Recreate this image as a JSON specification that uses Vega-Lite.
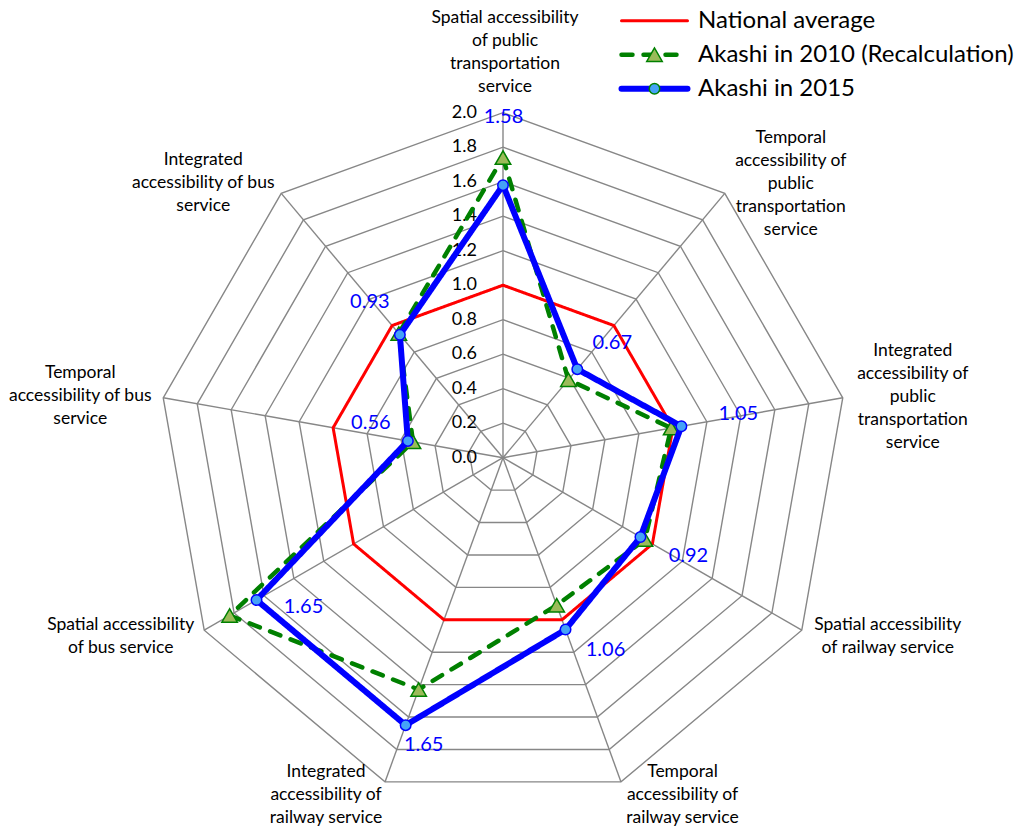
{
  "$schema": "https://vega.github.io/schema/vega-lite/v6.json",
  "width": 1027,
  "height": 827,
  "padding": 0,
  "autosize": {"type": "none"},
  "background": "white",
  "config": {"view": {"stroke": null}, "font": "Lato"},
  "datasets": {
    "series": [
      {"series": "National average", "idx": 0, "value": 1.0},
      {"series": "National average", "idx": 1, "value": 1.0},
      {"series": "National average", "idx": 2, "value": 1.0},
      {"series": "National average", "idx": 3, "value": 1.0},
      {"series": "National average", "idx": 4, "value": 1.0},
      {"series": "National average", "idx": 5, "value": 1.0},
      {"series": "National average", "idx": 6, "value": 1.0},
      {"series": "National average", "idx": 7, "value": 1.0},
      {"series": "National average", "idx": 8, "value": 1.0},
      {"series": "Akashi in 2010 (Recalculation)", "idx": 0, "value": 1.74},
      {"series": "Akashi in 2010 (Recalculation)", "idx": 1, "value": 0.59},
      {"series": "Akashi in 2010 (Recalculation)", "idx": 2, "value": 0.99},
      {"series": "Akashi in 2010 (Recalculation)", "idx": 3, "value": 0.95},
      {"series": "Akashi in 2010 (Recalculation)", "idx": 4, "value": 0.91},
      {"series": "Akashi in 2010 (Recalculation)", "idx": 5, "value": 1.43},
      {"series": "Akashi in 2010 (Recalculation)", "idx": 6, "value": 1.83},
      {"series": "Akashi in 2010 (Recalculation)", "idx": 7, "value": 0.53},
      {"series": "Akashi in 2010 (Recalculation)", "idx": 8, "value": 0.94},
      {"series": "Akashi in 2015", "idx": 0, "value": 1.58},
      {"series": "Akashi in 2015", "idx": 1, "value": 0.67},
      {"series": "Akashi in 2015", "idx": 2, "value": 1.05},
      {"series": "Akashi in 2015", "idx": 3, "value": 0.92},
      {"series": "Akashi in 2015", "idx": 4, "value": 1.06},
      {"series": "Akashi in 2015", "idx": 5, "value": 1.65},
      {"series": "Akashi in 2015", "idx": 6, "value": 1.65},
      {"series": "Akashi in 2015", "idx": 7, "value": 0.56},
      {"series": "Akashi in 2015", "idx": 8, "value": 0.93}
    ],
    "axes": [
      {"idx": 0, "label": "Spatial accessibility\nof public\ntransportation\nservice"},
      {"idx": 1, "label": "Temporal\naccessibility of\npublic\ntransportation\nservice"},
      {"idx": 2, "label": "Integrated\naccessibility of\npublic\ntransportation\nservice"},
      {"idx": 3, "label": "Spatial accessibility\nof railway service"},
      {"idx": 4, "label": "Temporal\naccessibility of\nrailway service"},
      {"idx": 5, "label": "Integrated\naccessibility of\nrailway service"},
      {"idx": 6, "label": "Spatial accessibility\nof bus service"},
      {"idx": 7, "label": "Temporal\naccessibility of bus\nservice"},
      {"idx": 8, "label": "Integrated\naccessibility of bus\nservice"}
    ],
    "grid": [
      {"ring": 0.2, "idx": [0, 1, 2, 3, 4, 5, 6, 7, 8]},
      {"ring": 0.4, "idx": [0, 1, 2, 3, 4, 5, 6, 7, 8]},
      {"ring": 0.6, "idx": [0, 1, 2, 3, 4, 5, 6, 7, 8]},
      {"ring": 0.8, "idx": [0, 1, 2, 3, 4, 5, 6, 7, 8]},
      {"ring": 1.0, "idx": [0, 1, 2, 3, 4, 5, 6, 7, 8]},
      {"ring": 1.2, "idx": [0, 1, 2, 3, 4, 5, 6, 7, 8]},
      {"ring": 1.4, "idx": [0, 1, 2, 3, 4, 5, 6, 7, 8]},
      {"ring": 1.6, "idx": [0, 1, 2, 3, 4, 5, 6, 7, 8]},
      {"ring": 1.8, "idx": [0, 1, 2, 3, 4, 5, 6, 7, 8]},
      {"ring": 2.0, "idx": [0, 1, 2, 3, 4, 5, 6, 7, 8]}
    ],
    "tickvals": [
      {"v": 0.0}, {"v": 0.2}, {"v": 0.4}, {"v": 0.6}, {"v": 0.8}, {"v": 1.0},
      {"v": 1.2}, {"v": 1.4}, {"v": 1.6}, {"v": 1.8}, {"v": 2.0}
    ]
  },
  "encoding": {
    "x": {"field": "x", "type": "quantitative", "scale": {"domain": [-2.91594, 3.03768], "nice": false, "zero": false}, "axis": null},
    "y": {"field": "y", "type": "quantitative", "scale": {"domain": [-2.14087, 2.65333], "nice": false, "zero": false}, "axis": null}
  },
  "layer": [
    {
      "data": {"name": "grid"},
      "transform": [
        {"flatten": ["idx"]},
        {"calculate": "datum.idx*2*PI/9", "as": "a"},
        {"calculate": "datum.ring*sin(datum.a)", "as": "x"},
        {"calculate": "datum.ring*cos(datum.a)", "as": "y"}
      ],
      "mark": {"type": "line", "interpolate": "linear-closed", "stroke": "#878787", "strokeWidth": 1.4},
      "encoding": {
        "detail": {"field": "ring", "type": "nominal"},
        "order": {"field": "idx", "type": "quantitative"}
      }
    },
    {
      "data": {"name": "axes"},
      "transform": [
        {"calculate": "datum.idx*2*PI/9", "as": "a"},
        {"calculate": "2*sin(datum.a)", "as": "x"},
        {"calculate": "2*cos(datum.a)", "as": "y"}
      ],
      "mark": {"type": "rule", "stroke": "#878787", "strokeWidth": 1.4},
      "encoding": {
        "x2": {"datum": 0},
        "y2": {"datum": 0}
      }
    },
    {
      "data": {"name": "tickvals"},
      "transform": [
        {"calculate": "0", "as": "x"},
        {"calculate": "datum.v", "as": "y"},
        {"calculate": "format(datum.v, '.1f')", "as": "lab"}
      ],
      "mark": {"type": "text", "align": "right", "baseline": "middle", "dx": -26, "fontSize": 18, "color": "black"},
      "encoding": {
        "text": {"field": "lab", "type": "nominal"}
      }
    },
    {
      "data": {"name": "series"},
      "transform": [
        {"filter": "datum.series !== 'Akashi in 2015'"},
        {"calculate": "datum.idx*2*PI/9", "as": "a"},
        {"calculate": "datum.value*sin(datum.a)", "as": "x"},
        {"calculate": "datum.value*cos(datum.a)", "as": "y"}
      ],
      "mark": {"type": "line", "interpolate": "linear-closed", "strokeCap": "round", "strokeJoin": "round"},
      "encoding": {
        "order": {"field": "idx", "type": "quantitative"},
        "stroke": {
          "field": "series", "type": "nominal",
          "scale": {"domain": ["National average", "Akashi in 2010 (Recalculation)", "Akashi in 2015"], "range": ["#ff0000", "#008000", "#0000ff"]},
          "legend": {
            "orient": "none", "legendX": 642.5, "legendY": 8.7, "title": null,
            "symbolType": "M-6.6,0L6.6,0", "symbolSize": 100,
            "labelFont": "Lato", "labelFontSize": 24, "labelColor": "black", "labelLimit": 500,
            "rowPadding": 10, "labelOffset": 31.5, "symbolOffset": 0, "padding": 0, "zindex": 0,
            "encode": {"symbols": {"update": {"strokeCap": {"value": "round"}}}}
          }
        },
        "strokeDash": {
          "field": "series", "type": "nominal",
          "scale": {"domain": ["National average", "Akashi in 2010 (Recalculation)", "Akashi in 2015"], "range": [[1, 0], [11, 11], [1, 0]]}
        },
        "strokeWidth": {
          "field": "series", "type": "nominal",
          "scale": {"type": "ordinal", "domain": ["National average", "Akashi in 2010 (Recalculation)", "Akashi in 2015"], "range": [3, 4.5, 6]}
        }
      }
    },
    {
      "data": {"name": "series"},
      "transform": [
        {"filter": "datum.series === 'Akashi in 2010 (Recalculation)'"},
        {"calculate": "datum.idx*2*PI/9", "as": "a"},
        {"calculate": "datum.value*sin(datum.a)", "as": "x"},
        {"calculate": "datum.value*cos(datum.a)", "as": "y"}
      ],
      "mark": {"type": "point", "filled": true, "stroke": "#008000", "strokeWidth": 1.5, "opacity": 1},
      "encoding": {
        "shape": {
          "field": "series", "type": "nominal",
          "scale": {"domain": ["Akashi in 2010 (Recalculation)", "Akashi in 2015"], "range": ["triangle-up", "circle"]},
          "legend": {
            "orient": "none", "legendX": 642.5, "legendY": 42.7, "title": null,
            "labelFont": "Lato", "labelFontSize": 24, "labelOpacity": 0, "labelLimit": 500,
            "rowPadding": 10, "labelOffset": 31.5, "symbolOffset": 0, "padding": 0, "zindex": 1,
            "encode": {"symbols": {"update": {
              "stroke": {"signal": "datum.value === 'Akashi in 2015' ? '#0000ff' : '#008000'"},
              "strokeWidth": {"value": 1.5},
              "opacity": {"value": 1}
            }}}
          }
        },
        "fill": {
          "field": "series", "type": "nominal",
          "scale": {"domain": ["Akashi in 2010 (Recalculation)", "Akashi in 2015"], "range": ["#9bbb59", "#45a2f7"]}
        },
        "size": {
          "field": "series", "type": "nominal",
          "scale": {"type": "ordinal", "domain": ["Akashi in 2010 (Recalculation)", "Akashi in 2015"], "range": [240, 110]}
        }
      }
    },
    {
      "data": {"name": "series"},
      "transform": [
        {"filter": "datum.series === 'Akashi in 2015'"},
        {"calculate": "datum.idx*2*PI/9", "as": "a"},
        {"calculate": "datum.value*sin(datum.a)", "as": "x"},
        {"calculate": "datum.value*cos(datum.a)", "as": "y"}
      ],
      "mark": {"type": "line", "interpolate": "linear-closed", "strokeCap": "round", "strokeJoin": "round"},
      "encoding": {
        "order": {"field": "idx", "type": "quantitative"},
        "stroke": {
          "field": "series", "type": "nominal",
          "scale": {"domain": ["National average", "Akashi in 2010 (Recalculation)", "Akashi in 2015"], "range": ["#ff0000", "#008000", "#0000ff"]}
        },
        "strokeDash": {
          "field": "series", "type": "nominal",
          "scale": {"domain": ["National average", "Akashi in 2010 (Recalculation)", "Akashi in 2015"], "range": [[1, 0], [11, 11], [1, 0]]}
        },
        "strokeWidth": {
          "field": "series", "type": "nominal",
          "scale": {"type": "ordinal", "domain": ["National average", "Akashi in 2010 (Recalculation)", "Akashi in 2015"], "range": [3, 4.5, 6]}
        }
      }
    },
    {
      "data": {"name": "series"},
      "transform": [
        {"filter": "datum.series === 'Akashi in 2015'"},
        {"calculate": "datum.idx*2*PI/9", "as": "a"},
        {"calculate": "datum.value*sin(datum.a)", "as": "x"},
        {"calculate": "datum.value*cos(datum.a)", "as": "y"}
      ],
      "mark": {"type": "point", "filled": true, "stroke": "#0000ff", "strokeWidth": 1.5, "opacity": 1},
      "encoding": {
        "shape": {
          "field": "series", "type": "nominal",
          "scale": {"domain": ["Akashi in 2010 (Recalculation)", "Akashi in 2015"], "range": ["triangle-up", "circle"]}
        },
        "fill": {
          "field": "series", "type": "nominal",
          "scale": {"domain": ["Akashi in 2010 (Recalculation)", "Akashi in 2015"], "range": ["#9bbb59", "#45a2f7"]}
        },
        "size": {
          "field": "series", "type": "nominal",
          "scale": {"type": "ordinal", "domain": ["Akashi in 2010 (Recalculation)", "Akashi in 2015"], "range": [240, 110]}
        }
      }
    },
    {
      "data": {"name": "series"},
      "transform": [
        {"filter": "datum.series === 'Akashi in 2015'"},
        {"calculate": "datum.idx*2*PI/9", "as": "a"},
        {"calculate": "datum.value*sin(datum.a)", "as": "x"},
        {"calculate": "datum.value*cos(datum.a)", "as": "y"}
      ],
      "encoding": {"text": {"field": "value", "type": "quantitative", "format": ".2f"}},
      "layer": [
        {"transform": [{"filter": "datum.idx === 0"}], "mark": {"type": "text", "dx": 0.5, "dy": -68, "fontSize": 20, "color": "#0000ff", "baseline": "middle"}},
        {"transform": [{"filter": "datum.idx === 1"}], "mark": {"type": "text", "dx": 35, "dy": -26, "fontSize": 20, "color": "#0000ff", "baseline": "middle"}},
        {"transform": [{"filter": "datum.idx === 2"}], "mark": {"type": "text", "dx": 57, "dy": -12, "fontSize": 20, "color": "#0000ff", "baseline": "middle"}},
        {"transform": [{"filter": "datum.idx === 3"}], "mark": {"type": "text", "dx": 48, "dy": 19, "fontSize": 20, "color": "#0000ff", "baseline": "middle"}},
        {"transform": [{"filter": "datum.idx === 4"}], "mark": {"type": "text", "dx": 40, "dy": 20, "fontSize": 20, "color": "#0000ff", "baseline": "middle"}},
        {"transform": [{"filter": "datum.idx === 5"}], "mark": {"type": "text", "dx": 18, "dy": 20, "fontSize": 20, "color": "#0000ff", "baseline": "middle"}},
        {"transform": [{"filter": "datum.idx === 6"}], "mark": {"type": "text", "dx": 47, "dy": 7, "fontSize": 20, "color": "#0000ff", "baseline": "middle"}},
        {"transform": [{"filter": "datum.idx === 7"}], "mark": {"type": "text", "dx": -37, "dy": -18, "fontSize": 20, "color": "#0000ff", "baseline": "middle"}},
        {"transform": [{"filter": "datum.idx === 8"}], "mark": {"type": "text", "dx": -30, "dy": -33, "fontSize": 20, "color": "#0000ff", "baseline": "middle"}}
      ]
    },
    {
      "data": {"name": "axes"},
      "transform": [
        {"calculate": "datum.idx*2*PI/9", "as": "a"},
        {"calculate": "2*sin(datum.a)", "as": "x"},
        {"calculate": "2*cos(datum.a)", "as": "y"}
      ],
      "encoding": {"text": {"field": "label", "type": "nominal"}},
      "layer": [
        {"transform": [{"filter": "datum.idx === 0"}], "mark": {"type": "text", "dx": 2, "dy": -94.5, "fontSize": 17.5, "lineHeight": 23, "lineBreak": "\n", "align": "center", "baseline": "middle", "color": "black"}},
        {"transform": [{"filter": "datum.idx === 1"}], "mark": {"type": "text", "dx": 66, "dy": -55, "fontSize": 17.5, "lineHeight": 23, "lineBreak": "\n", "align": "center", "baseline": "middle", "color": "black"}},
        {"transform": [{"filter": "datum.idx === 2"}], "mark": {"type": "text", "dx": 70, "dy": -47, "fontSize": 17.5, "lineHeight": 23, "lineBreak": "\n", "align": "center", "baseline": "middle", "color": "black"}},
        {"transform": [{"filter": "datum.idx === 3"}], "mark": {"type": "text", "dx": 86, "dy": -5, "fontSize": 17.5, "lineHeight": 23, "lineBreak": "\n", "align": "center", "baseline": "middle", "color": "black"}},
        {"transform": [{"filter": "datum.idx === 4"}], "mark": {"type": "text", "dx": 61.5, "dy": -10, "fontSize": 17.5, "lineHeight": 23, "lineBreak": "\n", "align": "center", "baseline": "middle", "color": "black"}},
        {"transform": [{"filter": "datum.idx === 5"}], "mark": {"type": "text", "dx": -59, "dy": -9.4, "fontSize": 17.5, "lineHeight": 23, "lineBreak": "\n", "align": "center", "baseline": "middle", "color": "black"}},
        {"transform": [{"filter": "datum.idx === 6"}], "mark": {"type": "text", "dx": -83.5, "dy": -5, "fontSize": 17.5, "lineHeight": 23, "lineBreak": "\n", "align": "center", "baseline": "middle", "color": "black"}},
        {"transform": [{"filter": "datum.idx === 7"}], "mark": {"type": "text", "dx": -83, "dy": -25, "fontSize": 17.5, "lineHeight": 23, "lineBreak": "\n", "align": "center", "baseline": "middle", "color": "black"}},
        {"transform": [{"filter": "datum.idx === 8"}], "mark": {"type": "text", "dx": -78, "dy": -33, "fontSize": 17.5, "lineHeight": 23, "lineBreak": "\n", "align": "center", "baseline": "middle", "color": "black"}}
      ]
    }
  ]
}
